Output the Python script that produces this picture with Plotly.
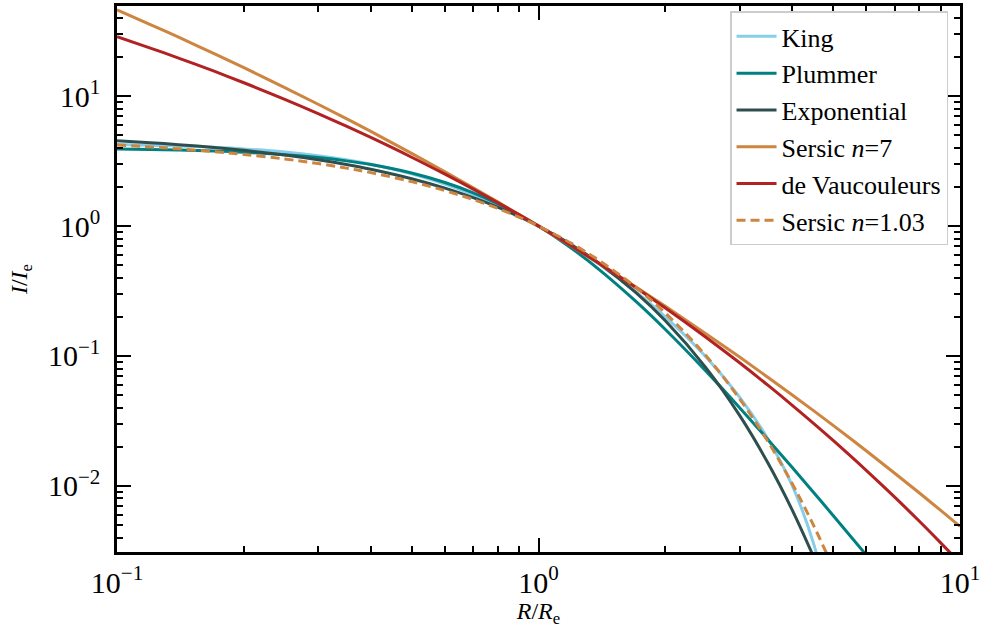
import plotly.graph_objects as go

# Radius grid R/Re
r_grid = [0.1, 0.12, 0.14, 0.17, 0.2, 0.25, 0.3, 0.35, 0.4, 0.5, 0.6, 0.7, 0.8, 0.9,
          1.0, 1.2, 1.4, 1.7, 2.0, 2.5, 3.0, 3.5, 4.0, 4.5, 5.0, 6.0, 7.0, 8.0, 9.0, 10.0]

# I/Ie
king = [4.244, 4.195, 4.137, 4.037, 3.924, 3.712, 3.479, 3.236, 2.991, 2.522, 2.102, 1.744,
        1.445, 1.200, 1.0, 0.7028, 0.5025, 0.3126, 0.1996, 0.09778, 0.04829, 0.02305,
        0.01003, 0.003547]
king_r_tail = [4.8]
king_tail = [0.001533]

plummer = [3.921, 3.887, 3.848, 3.778, 3.698, 3.543, 3.367, 3.175, 2.973, 2.560, 2.163, 1.802,
           1.487, 1.221, 1.0, 0.6719, 0.4565, 0.2643, 0.16, 0.0761, 0.04, 0.02278,
           0.01384, 0.008858, 0.005917, 0.002922]

exponential = [4.528, 4.378, 4.234, 4.025, 3.828, 3.520, 3.237, 2.976, 2.737, 2.314, 1.957,
               1.654, 1.399, 1.183, 1.0, 0.7149, 0.5111, 0.3089, 0.1867, 0.0807, 0.03487,
               0.01507, 0.006512, 0.002814]

sersic7 = [46.11, 35.58, 28.42, 21.26, 16.57, 11.65, 8.668, 6.710, 5.349, 3.628, 2.616, 1.972,
           1.535, 1.2265, 1.0, 0.6971, 0.5102, 0.3409, 0.2411, 0.1479, 0.09801, 0.06864,
           0.05013, 0.03779, 0.02922, 0.01856, 0.01252, 0.00885, 0.00647, 0.00487]

devauc = [28.69, 23.46, 19.65, 15.56, 12.68, 9.452, 7.340, 5.873, 4.807, 3.388, 2.508, 1.924,
          1.516, 1.2207, 1.0, 0.6993, 0.5102, 0.3369, 0.2343, 0.1389, 0.0886, 0.05957,
          0.04173, 0.03018, 0.02239, 0.01312, 0.00819, 0.00536, 0.00364, 0.00256]

sersic103 = [4.200, 4.063, 3.931, 3.741, 3.562, 3.283, 3.027, 2.793, 2.578, 2.197, 1.875,
             1.601, 1.368, 1.169, 1.0, 0.7326, 0.5375, 0.3386, 0.2138, 0.09979, 0.04679,
             0.02201, 0.01039, 0.004918, 0.002333]

names = ["King", "Plummer", "Exponential", "Sersic <i>n</i>=7", "de Vaucouleurs",
         "Sersic <i>n</i>=1.03"]
colors = ["#87CEEB", "#008080", "#2F4F4F", "#CD853F", "#B22222", "#CD853F"]

x_ticks = [0.1, 1, 10]
x_ticktext = ["10<sup>−1</sup>", "10<sup>0</sup>", "10<sup>1</sup>"]
y_ticks = [0.01, 0.1, 1, 10]
y_ticktext = ["10<sup>−2</sup>", "10<sup>−1</sup>", "10<sup>0</sup>", "10<sup>1</sup>"]

series = [
    (r_grid[:len(king)] + king_r_tail, king + king_tail),
    (r_grid[:len(plummer)], plummer),
    (r_grid[:len(exponential)], exponential),
    (r_grid[:len(sersic7)], sersic7),
    (r_grid[:len(devauc)], devauc),
    (r_grid[:len(sersic103)], sersic103),
]

FONT = "'Liberation Serif', 'Times New Roman', 'DejaVu Serif', serif"
fig = go.Figure()
for i, ((xs, ys), name, col) in enumerate(zip(series, names, colors)):
    fig.add_trace(go.Scatter(
        x=xs, y=ys, mode="lines", name=name,
        line=dict(color=col, width=3, shape="spline",
                  dash="9px,5px" if i == 5 else "solid"),
    ))

minor_vals = []
for dec in [0.001, 0.01, 0.1, 1, 10]:
    for m in range(2, 10):
        minor_vals.append(m * dec)

axis_common = dict(
    type="log", showgrid=False, zeroline=False, automargin=False,
    showline=True, linecolor="black", linewidth=2.5, mirror="allticks",
    ticks="inside", ticklen=14, tickwidth=2, tickcolor="black",
    tickfont=dict(family=FONT, size=30, color="black"),
    ticklabeloverflow="allow",
    minor=dict(tickmode="array", tickvals=minor_vals, ticks="inside",
               ticklen=6, tickwidth=1.5, tickcolor="black", showgrid=False),
)

fig.update_layout(
    width=982, height=628,
    margin=dict(l=117, r=22, t=6, b=76),
    paper_bgcolor="white", plot_bgcolor="white",
    font=dict(family=FONT, color="black"),
    showlegend=True,
    legend=dict(
        x=0.9858, xanchor="right", y=0.99, yanchor="top",
        bgcolor="white", bordercolor="#cccccc", borderwidth=1.5,
        font=dict(family=FONT, size=26, color="black"),
        itemwidth=40,
    ),
    xaxis=dict(axis_common, range=[-1, 1], tickvals=x_ticks, ticktext=x_ticktext,
               ticklabelstandoff=2,
               title=dict(text="<i>R</i>/<i>R</i><sub>e</sub>",
                          font=dict(family=FONT, size=24), standoff=12)),
    yaxis=dict(axis_common, range=[-2.509, 1.694], tickvals=y_ticks, ticktext=y_ticktext,
               ticklabelstandoff=8,
               title=dict(text="<i>I</i>/<i>I</i><sub>e</sub>",
                          font=dict(family=FONT, size=24), standoff=14)),
)

fig.write_html("out.html")
